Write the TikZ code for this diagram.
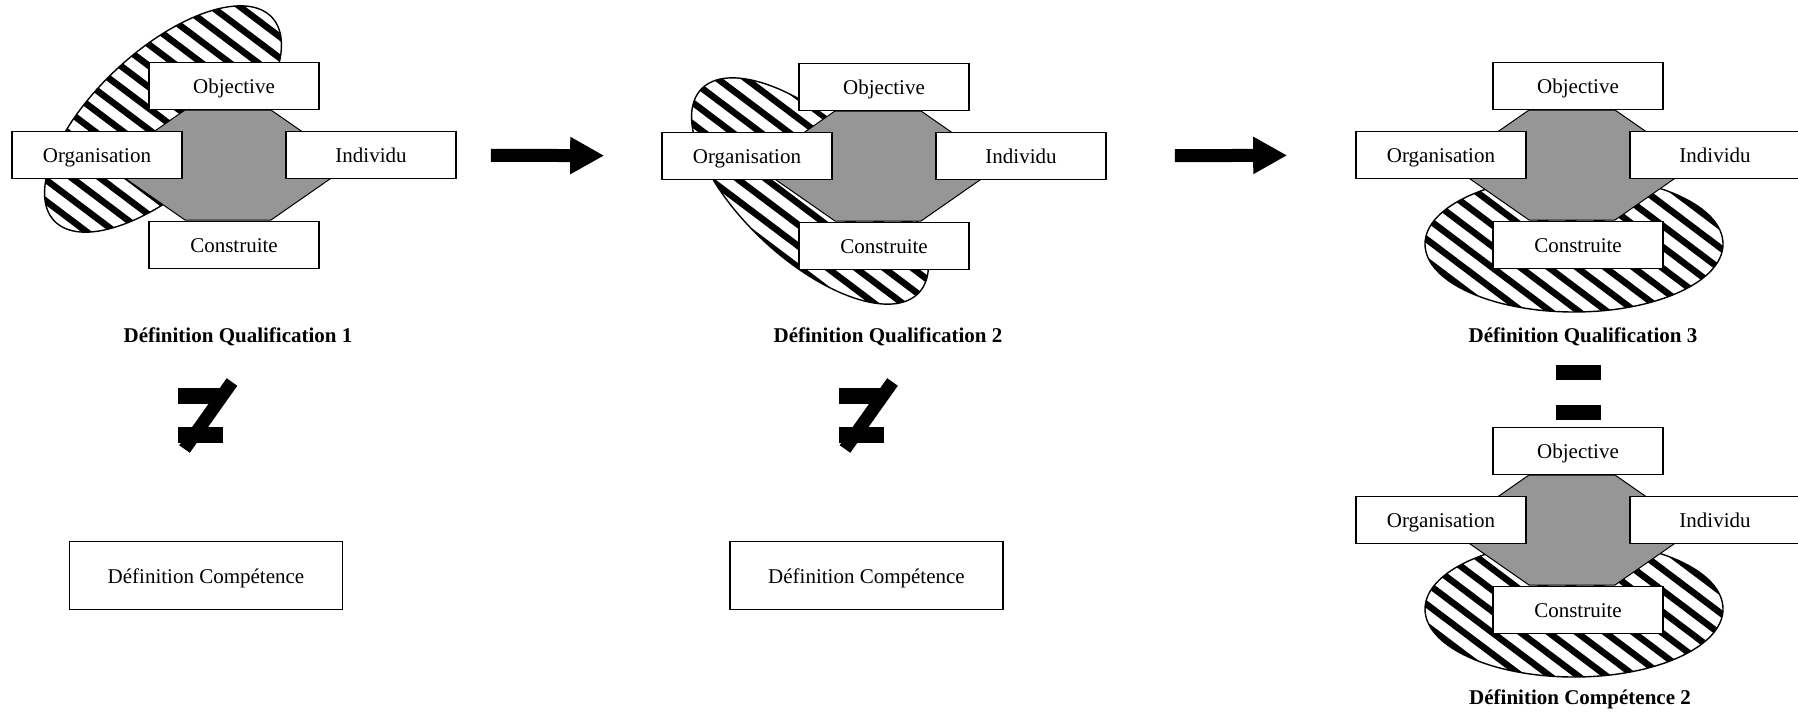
\documentclass[tikz,border=0pt]{standalone}
\usepackage{fontspec}
\setmainfont{Liberation Serif}
\usetikzlibrary{positioning,calc,arrows.meta}
\definecolor{hexgray}{RGB}{150,150,150}

\begin{document}
\begin{tikzpicture}[x=1pt,y=-1pt,on grid,
    every node/.style={font=\fontsize{21}{25}\selectfont},
    box/.style={draw,line width=1.6pt,fill=white,minimum width=170pt,minimum height=47pt,
      inner sep=0pt,text height=17pt,text depth=2pt},
    defbox/.style={box,minimum width=273pt,minimum height=68pt},
    title/.style={font=\fontsize{21}{25}\selectfont\bfseries},
    hexa/.style={draw,line width=1pt,fill=hexgray},
    rim/.style={draw,line width=1.4pt},
    stripe/.style={line width=6.5pt},
    bar/.style={fill=black},
    bigarrow/.style={line width=13pt,-{Triangle[length=34pt,width=35pt]}}]
  \useasboundingbox (0,0) rectangle (1798,715);

  % hatched ellipses
  \foreach \n/\ex/\ey/\rot in {1/163/119/43, 2/810/191/-43, 3/1574/244/0, 4/1574/609/0} {
    \coordinate (e\n) at (\ex,\ey);
    \begin{scope}
      \clip (e\n) ellipse [x radius=149,y radius=68,rotate=\rot];
      \foreach \k in {-13,...,13}
        \draw[stripe,shift={(e\n)},rotate=-37] (-230,\k*17) -- (230,\k*17);
    \end{scope}
    \draw[rim] (e\n) ellipse [x radius=149,y radius=68,rotate=\rot];
  }

  % hexagon with the four boxes
  \foreach \n/\X/\Y in {1/234/155, 2/884/156, 3/1578/155, 4/1578/520} {
    \coordinate (c\n) at (\X,\Y);
    \draw[hexa] ($(c\n)+(-49,-45)$) -- ++(86,0) -- ++(79,55) -- ++(-79,55)
      -- ++(-86,0) -- ++(-79,-55) -- cycle;
    \node[box] (obj\n) at ($(c\n)+(0,-69)$) {Objective};
    \node[box] (org\n) at ($(c\n)+(-137,0)$) {Organisation};
    \node[box] (ind\n) at ($(c\n)+(137,0)$) {Individu};
    \node[box] (con\n) at ($(c\n)+(0,90)$) {Construite};
  }

  \node[title] (qual1) [below=92pt of con1, xshift=4pt] {Définition Qualification 1};
  \node[title] (qual2) [below=91pt of con2, xshift=4pt] {Définition Qualification 2};
  \node[title] (qual3) [below=92pt of con3, xshift=5pt] {Définition Qualification 3};
  \node[title] (comp3) [below=89pt of con4, xshift=2pt] {Définition Compétence 2};

  \node[defbox] (comp1) at (206,575.5) {Définition Compétence};
  \node[defbox] (comp2) at (866.5,575.5) {Définition Compétence};

  % not equal
  \foreach \n/\x in {1/200.5, 2/861} {
    \coordinate (ne\n) at (\x,415.5);
    \fill[bar] ($(ne\n)+(-22.5,-27.5)$) rectangle ++(45,16);
    \fill[bar] ($(ne\n)+(-22.5,11.5)$) rectangle ++(45,16);
    \draw[line width=13pt] ($(ne\n)+(-16,33.5)$) -- ($(ne\n)+(31.5,-33.5)$);
  }
  % equal
  \coordinate (eq) at (1578.5,392);
  \fill[bar] ($(eq)+(-22.5,-27)$) rectangle ++(45,15);
  \fill[bar] ($(eq)+(-22.5,13)$) rectangle ++(45,15);

  \draw[bigarrow,shorten <=34pt,shorten >=57pt] (ind1) -- (org2);
  \draw[bigarrow,shorten <=68pt,shorten >=68pt] (ind2) -- (org3);
\end{tikzpicture}
\end{document}
